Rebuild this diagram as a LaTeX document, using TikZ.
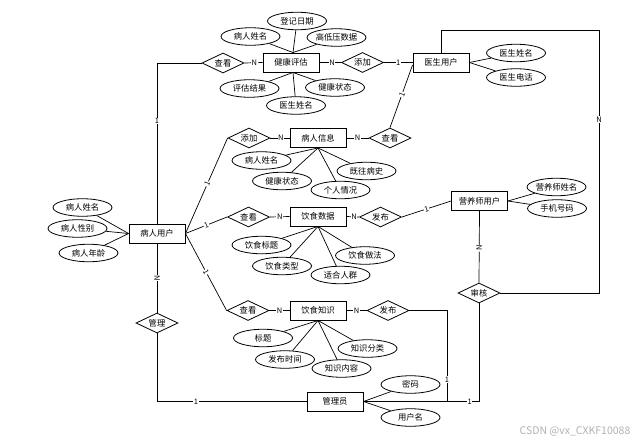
\documentclass[tikz,border=0pt]{standalone}
\usepackage{fontspec}
\setmainfont{Noto Sans CJK SC}
\usetikzlibrary{shapes.geometric}
\newcommand\myfs{\fontsize{8.3}{10}\selectfont}
\newcommand\mylbl{\fontsize{7.5}{9}\selectfont}
\begin{document}
\begin{tikzpicture}[x=1pt,y=-1pt,
  ent/.style={draw, line width=0.9pt, minimum width=56pt, minimum height=19pt, inner sep=0pt, font=\myfs},
  rel/.style={draw, diamond, aspect=2, line width=0.8pt, minimum width=42pt, minimum height=20pt, inner sep=0pt, font=\myfs},
  attr/.style={draw, ellipse, line width=0.8pt, minimum width=59pt, minimum height=17.5pt, inner sep=0pt, font=\myfs},
  card/.style={fill=white, inner sep=0.6pt, font=\mylbl},
  ln/.style={line width=0.7pt}
]
\fill[white] (0,0) rectangle (642,442);
\useasboundingbox (0,0) rectangle (642,442);

% entities
\node[ent] (jkpg) at (291,62.5) {健康评估};
\node[ent] (ysyh) at (441,62.5) {医生用户};
\node[ent] (brxx) at (318,138) {病人信息};
\node[ent] (ysj) at (318,216.5) {饮食数据};
\node[ent] (yzs) at (318,310.5) {饮食知识};
\node[ent] (bryh) at (157,233.5) {病人用户};
\node[ent] (yys) at (479.5,201) {营养师用户};
\node[ent] (gly) at (335,401.5) {管理员};

% relations
\node[rel] (ck1) at (223,63) {查看};
\node[rel] (tj1) at (362.5,62.5) {添加};
\node[rel] (tj2) at (249,138) {添加};
\node[rel] (ck2) at (390,138) {查看};
\node[rel] (ck3) at (248.5,217) {查看};
\node[rel] (fb1) at (380.5,217) {发布};
\node[rel] (ck4) at (248,310.5) {查看};
\node[rel] (fb2) at (388,310.5) {发布};
\node[rel] (sh) at (479,293) {审核};
\node[rel] (gl) at (157,323) {管理};

% attributes
\node[attr] (a1) at (297,21) {登记日期};
\node[attr] (a2) at (250.5,36.5) {病人姓名};
\node[attr] (a3) at (336.5,37.5) {高低压数据};
\node[attr] (a4) at (249.5,88.5) {评估结果};
\node[attr] (a5) at (335,87.5) {健康状态};
\node[attr] (a6) at (296,105.5) {医生姓名};
\node[attr] (d1) at (516,53) {医生姓名};
\node[attr] (d2) at (516,77.5) {医生电话};
\node[attr] (b1) at (261.5,160.5) {病人姓名};
\node[attr] (b2) at (282,181) {健康状态};
\node[attr] (b3) at (340.5,190) {个人情况};
\node[attr] (b4) at (366.5,171) {既往病史};
\node[attr] (c1) at (261.5,245) {饮食标题};
\node[attr] (c2) at (282,266) {饮食类型};
\node[attr] (c3) at (340.5,275) {适合人群};
\node[attr] (c4) at (365,255.5) {饮食做法};
\node[attr] (k1) at (263,338) {标题};
\node[attr] (k2) at (285,359.5) {发布时间};
\node[attr] (k3) at (341.5,368.5) {知识内容};
\node[attr] (k4) at (367.5,348.5) {知识分类};
\node[attr] (g1) at (410.5,384.5) {密码};
\node[attr] (g2) at (410.5,417.5) {用户名};
\node[attr] (p1) at (82.5,207.5) {病人姓名};
\node[attr] (p2) at (77.5,228.5) {病人性别};
\node[attr] (p3) at (88.5,253) {病人年龄};
\node[attr] (y1) at (556.5,187) {营养师姓名};
\node[attr] (y2) at (557,208.5) {手机号码};

% attribute lines
\foreach \t in {a1,a2,a3} \draw[ln] ([xshift=2pt]jkpg.north) -- (\t);
\foreach \t in {a4,a5,a6} \draw[ln] ([xshift=2pt]jkpg.south) -- (\t);
\foreach \t in {d1,d2} \draw[ln] (ysyh.east) -- (\t);
\foreach \t in {b1,b2,b3,b4} \draw[ln] (brxx.south) -- (\t);
\foreach \t in {c1,c2,c3,c4} \draw[ln] (ysj.south) -- (\t);
\foreach \t in {k1,k2,k3,k4} \draw[ln] (yzs.south) -- (\t);
\foreach \t in {g1,g2} \draw[ln] (gly.east) -- (\t);
\foreach \t in {p1,p2,p3} \draw[ln] (bryh.west) -- (\t);
\foreach \t in {y1,y2} \draw[ln] (yys.east) -- (\t);

% relation lines
\coordinate (cR) at (599,30.5);
\coordinate (cM) at (447,401.5);
\draw[ln] (bryh.north) |- (ck1.west) node[card, pos=0.32] {1};
\draw[ln] (ck1.east) -- (jkpg.west) node[card, pos=0.55] {N};
\draw[ln] (jkpg.east) -- (tj1.west) node[card, pos=0.58] {N};
\draw[ln] (tj1.east) -- (ysyh.west) node[card, pos=0.5] {1};
\draw[ln] ([yshift=-2.5pt]ysyh.west) -- (ck2.north) node[card, pos=0.47, sloped] {1};
\draw[ln] (ck2.west) -- (brxx.east) node[card, pos=0.5] {N};
\draw[ln] (tj2.east) -- (brxx.west) node[card, pos=0.55] {N};
\draw[ln] (bryh.east) -- (tj2.west) node[card, pos=0.52, sloped] {1};
\draw[ln] (bryh.east) -- (ck3.west) node[card, pos=0.5, sloped] {1};
\draw[ln] (bryh.east) -- (ck4.west) node[card, pos=0.5, sloped] {1};
\draw[ln] (ck3.east) -- (ysj.west) node[card, pos=0.5] {N};
\draw[ln] (ysj.east) -- (fb1.west) node[card, pos=0.6] {N};
\draw[ln] (fb1.east) -- (yys.west) node[card, pos=0.5, sloped] {1};
\draw[ln] (yys.south) -- (sh.north) node[card, pos=0.52, sloped] {N};
\draw[ln] (sh.east) -| (cR) node[card, pos=0.83] {N} -| (ysyh.north);
\draw[ln] (sh.south) |- (gly.east) node[card, pos=0.54] {1};
\draw[ln] (fb2.east) -| (cM) node[card, pos=0.88] {1};
\draw[ln] (yzs.east) -- (fb2.west) node[card, pos=0.5] {N};
\draw[ln] (ck4.east) -- (yzs.west) node[card, pos=0.5] {N};
\draw[ln] (bryh.south) -- (gl.north) node[card, pos=0.5, sloped] {N};
\draw[ln] (gl.south) |- (gly.west) node[card, pos=0.63] {1};

% watermark
\node[font=\fontsize{10.5}{12}\selectfont, text=gray!60] (wm) at (575,431) {CSDN @vx\_CXKF10088};
\end{tikzpicture}
\end{document}
